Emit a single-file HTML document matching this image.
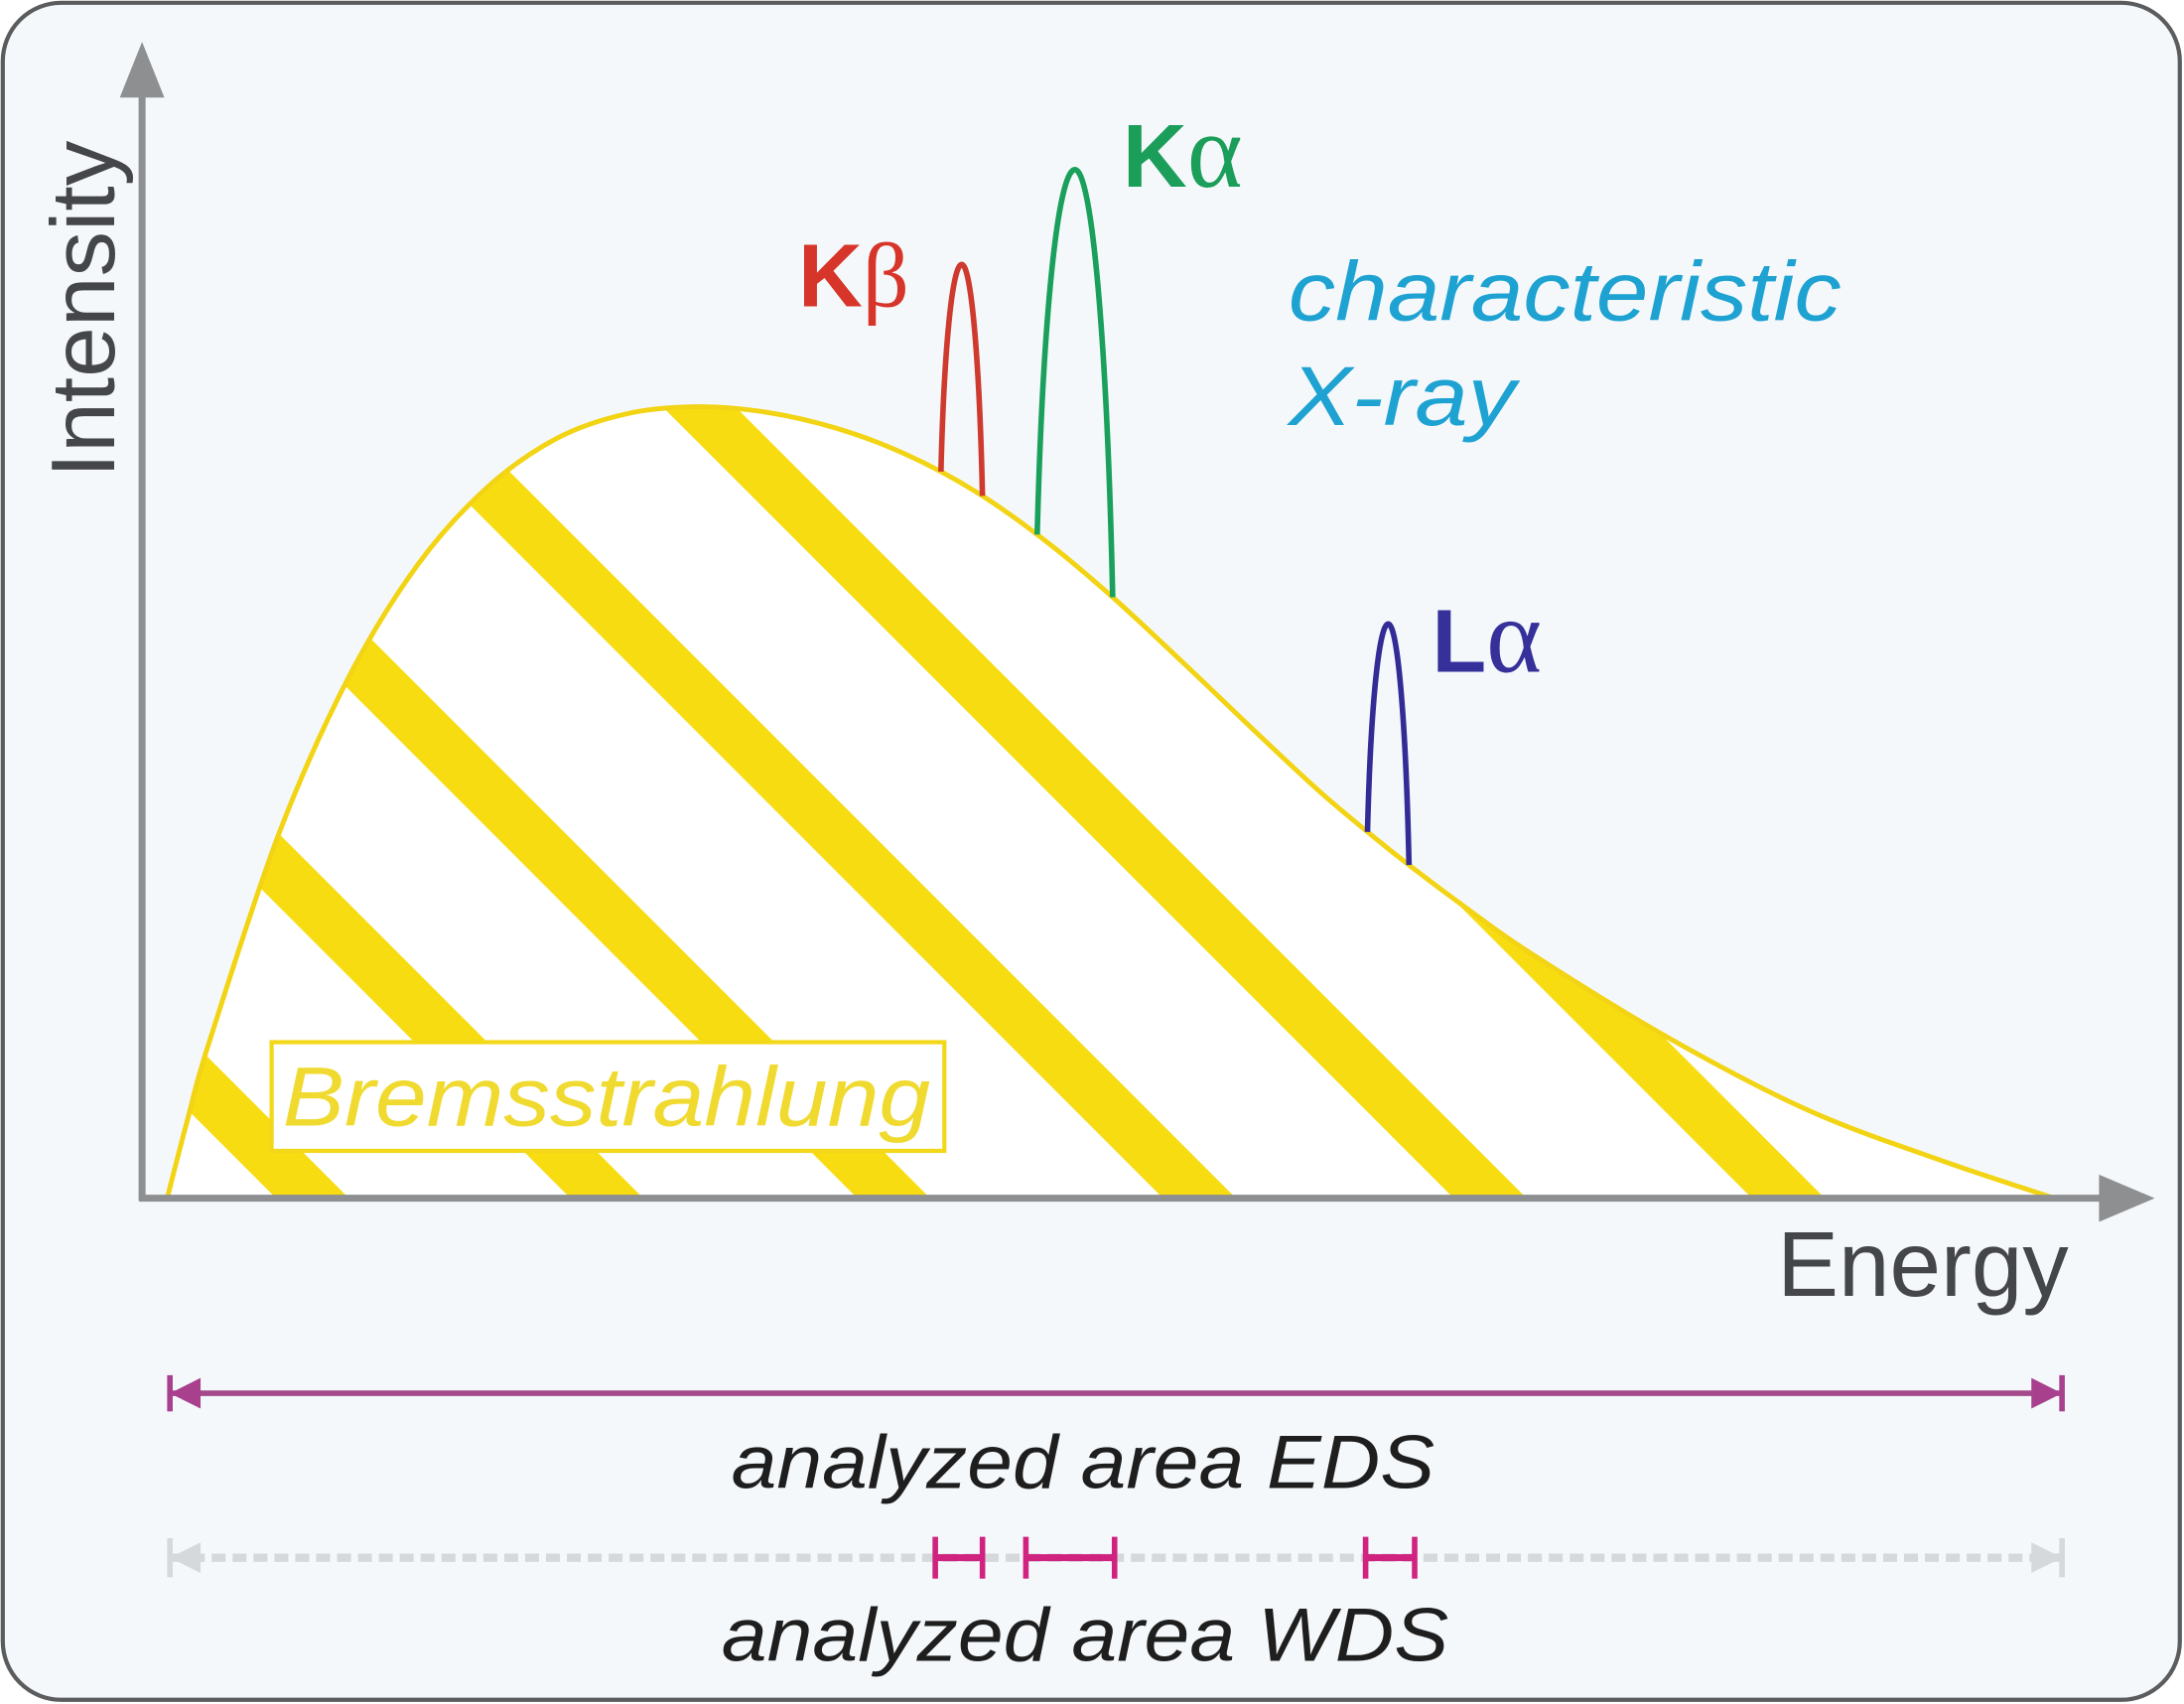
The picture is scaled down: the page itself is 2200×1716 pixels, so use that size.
<!DOCTYPE html>
<html><head><meta charset="utf-8">
<style>
html,body{margin:0;padding:0;background:#fff;}
svg{display:block;}
text{font-family:"Liberation Sans",sans-serif;}
</style></head>
<body>
<svg id="chart" width="2200" height="1716" viewBox="0 0 1568 1223" preserveAspectRatio="none" xmlns="http://www.w3.org/2000/svg">
<defs>
<clipPath id="curveClip"><path id="clipPathShape" d=""/></clipPath>
</defs>
<rect x="2" y="2" width="1563" height="1218" rx="42" ry="42" fill="#f4f8fb" stroke="#5a5c5e" stroke-width="3"/>
<g id="bremsG"></g>
<g id="peaksG"></g>
<line x1="102" y1="862" x2="102" y2="60" stroke="#8d8f91" stroke-width="5"/>
<polygon points="102,30 86,70 118,70" fill="#8d8f91"/>
<line x1="100" y1="860" x2="1515" y2="860" stroke="#8d8f91" stroke-width="5"/>
<polygon points="1547,860 1507,843 1507,877" fill="#8d8f91"/>
<text transform="translate(82,343) rotate(-90)" font-size="65" fill="#444649">Intensity</text>
<text x="1276" y="930" font-size="66" fill="#444649">Energy</text>
<text x="573" y="220" font-size="64" fill="#d8352a"><tspan font-weight="bold">K</tspan><tspan font-family="Liberation Serif,serif" font-size="66">β</tspan></text>
<text x="806" y="134" font-size="64" fill="#1a9e5a"><tspan font-weight="bold">K</tspan><tspan font-family="Liberation Serif,serif" font-size="76">α</tspan></text>
<text x="1028" y="482" font-size="64" fill="#35309a"><tspan font-weight="bold">L</tspan><tspan font-family="Liberation Serif,serif" font-size="76">α</tspan></text>
<text x="925" y="230" font-size="60" font-style="italic" fill="#1ea2d2" textLength="397" lengthAdjust="spacingAndGlyphs">characteristic</text>
<text x="925" y="305" font-size="60" font-style="italic" fill="#1ea2d2" textLength="163" lengthAdjust="spacingAndGlyphs">X-ray</text>
<rect x="195" y="748" width="483" height="78" fill="#ffffff" stroke="#f3d81a" stroke-width="3"/>
<text x="203" y="808" font-size="60" font-style="italic" fill="#f0da30" textLength="465" lengthAdjust="spacingAndGlyphs">Bremsstrahlung</text>
<g id="edsG"></g>
<text x="525" y="1068" font-size="54" font-style="italic" fill="#1e1e1e" textLength="505" lengthAdjust="spacingAndGlyphs">analyzed area EDS</text>
<g id="wdsG"></g>
<text x="518" y="1192" font-size="54" font-style="italic" fill="#1e1e1e" textLength="522" lengthAdjust="spacingAndGlyphs">analyzed area WDS</text>
</svg>
<script>
const curveEnergy = [0,1.11,2.21,5.90,9.59,13.28,16.97,20.66,24.35,28.04,31.73,35.42,39.11,42.80,46.49,50.18,53.87,57.56,61.25,64.94,68.63,72.32,79.70,87.08,94.46,100];
const curveIntensity = [0,10.2,19.6,46.0,65.8,80.2,90.0,96.2,99.3,100.2,99.5,97.5,94.2,89.5,83.3,75.9,67.7,59.3,51.1,43.8,37.1,30.9,20.1,11.0,4.4,0];
const peakNames = ['kbeta','kalpha','lalpha'];
const peakCenter = [42.1,48.1,64.7];
const peakHalfWidth = [1.1,2.0,1.1];
const peakTop = [118.2,130.2,72.7];
const peakColors = ['#cf3a2e','#1aa05c','#332c96'];
const stripeBaseEnergy = [7.7,23.3,38.5,54.7,70.1,85.9];
const edsRange = [0,100.4];
const wdsStart = [40.7,45.5,63.5];
const wdsEnd = [43.2,50.2,66.1];

const X0=120, XS=13.55, Y0=860, YS=5.67;
function xScale(e){return X0+e*XS;}
function yScale(i){return Y0-i*YS;}
const NS='http://www.w3.org/2000/svg';
function mk(tag,attrs,parent){const el=document.createElementNS(NS,tag);for(const k in attrs)el.setAttribute(k,attrs[k]);parent.appendChild(el);return el;}

const pts=curveEnergy.map((e,k)=>[xScale(e),yScale(curveIntensity[k])]);
let d='M'+pts[0][0]+','+pts[0][1];
const segs=[];
for(let k=0;k<pts.length-1;k++){
  const p0=pts[Math.max(0,k-1)],p1=pts[k],p2=pts[k+1],p3=pts[Math.min(pts.length-1,k+2)];
  const c1=[p1[0]+(p2[0]-p0[0])/6,p1[1]+(p2[1]-p0[1])/6];
  const c2=[p2[0]-(p3[0]-p1[0])/6,p2[1]-(p3[1]-p1[1])/6];
  segs.push([p1,c1,c2,p2]);
  d+=' C'+c1[0].toFixed(1)+','+c1[1].toFixed(1)+' '+c2[0].toFixed(1)+','+c2[1].toFixed(1)+' '+p2[0].toFixed(1)+','+p2[1].toFixed(1);
}
const samples=[];
segs.forEach(s=>{for(let t=0;t<=1.0001;t+=0.02){const u=1-t;
  samples.push([u*u*u*s[0][0]+3*u*u*t*s[1][0]+3*u*t*t*s[2][0]+t*t*t*s[3][0],
                u*u*u*s[0][1]+3*u*u*t*s[1][1]+3*u*t*t*s[2][1]+t*t*t*s[3][1]]);}});
function curveY(x){
  for(let k=0;k<samples.length-1;k++){const a=samples[k],b=samples[k+1];
    if(x>=a[0]&&x<=b[0]&&b[0]>a[0]) return a[1]+(x-a[0])/(b[0]-a[0])*(b[1]-a[1]);}
  return Y0;
}
document.getElementById('clipPathShape').setAttribute('d',d+' Z');
const bg=document.getElementById('bremsG');
const fillEl=mk('path',{d:d+' Z',fill:'#ffffff',stroke:'none'},bg);


const sg=mk('g',{'clip-path':'url(#curveClip)'},bg);
const slope=1.0;
stripeBaseEnergy.forEach((e,k)=>{
  const bx=xScale(e);
  const ln=mk('line',{x1:bx+100,y1:Y0+100*slope,x2:bx-800,y2:Y0-800*slope,stroke:'#f7dc12','stroke-width':37},sg);
  
  
});
const outl=mk('path',{d:d,fill:'none',stroke:'#f2d414','stroke-width':3.5,'stroke-linejoin':'round'},bg);



const pg=document.getElementById('peaksG');
peakCenter.forEach((c,k)=>{
  const el=c-peakHalfWidth[k], er=c+peakHalfWidth[k];
  const xl=xScale(el), xr=xScale(er), xc=xScale(c);
  const yl=curveY(xl), yr=curveY(xr), yt=yScale(peakTop[k]);
  const hw=xr-xc;
  const pd='M'+xl+','+yl+' C'+(xl+0.15*hw)+','+(yt+0.4*(yl-yt))+' '+(xc-0.45*hw)+','+yt+' '+xc+','+yt+
    ' C'+(xc+0.45*hw)+','+yt+' '+(xr-0.15*hw)+','+(yt+0.4*(yr-yt))+' '+xr+','+yr;
  const p=mk('path',{d:pd,fill:'none',stroke:peakColors[k],'stroke-width':4},pg);
  
  
});

const eg=document.getElementById('edsG');
const ex1=xScale(edsRange[0])+2, ex2=xScale(edsRange[1]);
const ey=1000;
let e1=mk('line',{x1:ex1,y1:ey,x2:ex2,y2:ey,stroke:'#a44a8a','stroke-width':4},eg);


let e2=mk('polygon',{points:ex1+','+ey+' '+(ex1+22)+','+(ey-11)+' '+(ex1+22)+','+(ey+11),fill:'#a8408e'},eg);


let e3=mk('line',{x1:ex1,y1:ey-13,x2:ex1,y2:ey+13,stroke:'#a8408e','stroke-width':4},eg);


let e4=mk('polygon',{points:ex2+','+ey+' '+(ex2-22)+','+(ey-11)+' '+(ex2-22)+','+(ey+11),fill:'#a8408e'},eg);


let e5=mk('line',{x1:ex2,y1:ey-13,x2:ex2,y2:ey+13,stroke:'#a8408e','stroke-width':4},eg);



const wg=document.getElementById('wdsG');
const wy=1118;
let w1=mk('line',{x1:ex1,y1:wy,x2:ex2,y2:wy,stroke:'#d6d9dc','stroke-width':6,'stroke-dasharray':'10 5'},wg);


let w2=mk('polygon',{points:ex1+','+wy+' '+(ex1+22)+','+(wy-11)+' '+(ex1+22)+','+(wy+11),fill:'#d6d9dc'},wg);


let w3=mk('line',{x1:ex1,y1:wy-14,x2:ex1,y2:wy+14,stroke:'#d6d9dc','stroke-width':4},wg);


let w4=mk('polygon',{points:ex2+','+wy+' '+(ex2-22)+','+(wy-11)+' '+(ex2-22)+','+(wy+11),fill:'#d6d9dc'},wg);


let w5=mk('line',{x1:ex2,y1:wy-14,x2:ex2,y2:wy+14,stroke:'#d6d9dc','stroke-width':4},wg);


wdsStart.forEach((s,k)=>{
  const a=xScale(s), b=xScale(wdsEnd[k]);
  const g=mk('g',{},wg);
  
  
  mk('line',{x1:a,y1:wy,x2:b,y2:wy,stroke:'#d0237f','stroke-width':5},g);
  mk('line',{x1:a,y1:wy-15,x2:a,y2:wy+15,stroke:'#d0237f','stroke-width':4},g);
  mk('line',{x1:b,y1:wy-15,x2:b,y2:wy+15,stroke:'#d0237f','stroke-width':4},g);
});
</script>
</body></html>
